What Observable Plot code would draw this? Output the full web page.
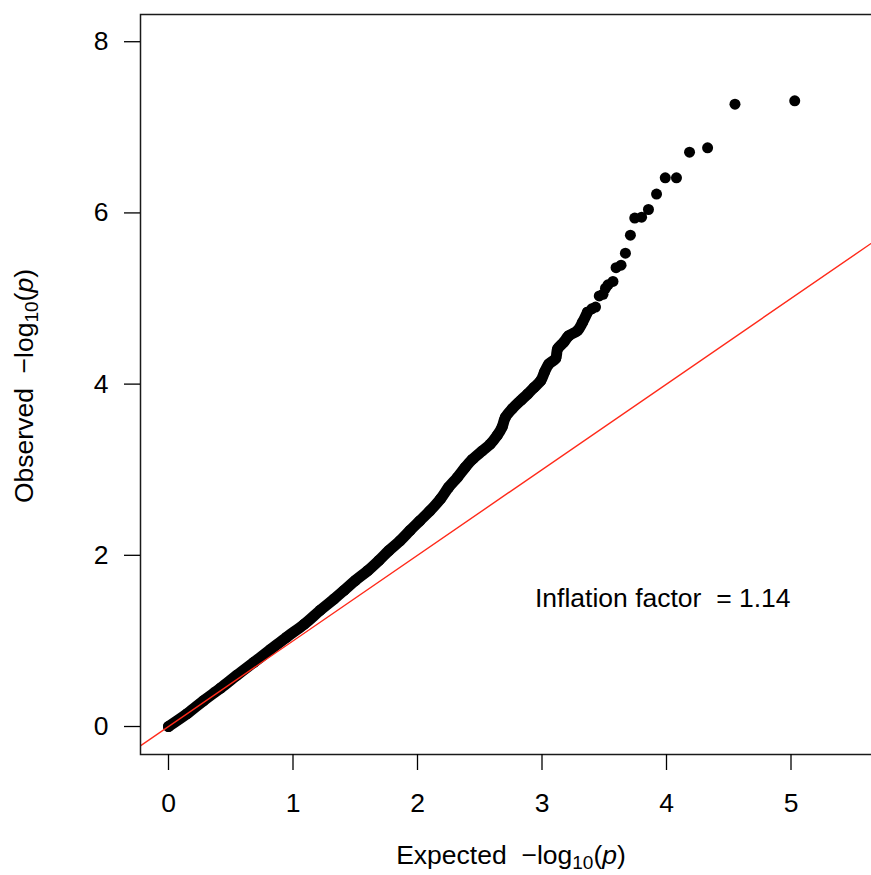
<!DOCTYPE html>
<html>
<head>
<meta charset="utf-8">
<script src="https://cdn.jsdelivr.net/npm/d3@7"></script>
<script src="https://cdn.jsdelivr.net/npm/@observablehq/plot@0.6"></script>
<style>
  html, body { margin: 0; padding: 0; background: white; overflow: hidden; }
  svg { max-width: none !important; }
  svg text { white-space: pre; }
</style>
</head>
<body>
<div id="chart"></div>
<script>
// Expected vs observed -log10(p) quantiles, sorted by expected value
const expected = [
  0.00, 0.15, 0.28, 0.42, 0.55, 0.685, 0.82, 0.95, 1.09, 1.22,
  1.33, 1.41, 1.50, 1.60, 1.69, 1.77, 1.86, 1.94, 2.02, 2.10,
  2.185, 2.25, 2.32, 2.385, 2.44, 2.52, 2.585, 2.64, 2.68, 2.705,
  2.76, 2.83, 2.885, 2.935, 2.99, 3.02, 3.055, 3.11, 3.125, 3.175,
  3.215, 3.285, 3.325, 3.365, 3.40, 3.43, 3.46, 3.49, 3.51, 3.53,
  3.57, 3.595, 3.635, 3.67, 3.71, 3.745, 3.80, 3.855, 3.92, 3.99,
  4.08, 4.185, 4.33, 4.55, 5.03
];
const observed = [
  0.00, 0.15, 0.30, 0.45, 0.60, 0.75, 0.90, 1.045, 1.195, 1.36,
  1.49, 1.59, 1.705, 1.82, 1.94, 2.055, 2.17, 2.29, 2.405, 2.52,
  2.66, 2.795, 2.91, 3.03, 3.12, 3.22, 3.30, 3.40, 3.50, 3.61,
  3.71, 3.81, 3.885, 3.96, 4.04, 4.14, 4.235, 4.30, 4.41, 4.49,
  4.565, 4.625, 4.72, 4.84, 4.88, 4.90, 5.03, 5.05, 5.12, 5.16,
  5.20, 5.36, 5.39, 5.53, 5.74, 5.94, 5.95, 6.04, 6.22, 6.41,
  6.41, 6.71, 6.76, 7.27, 7.31
];

// Identity reference line (observed = expected)
const identity = [-0.5, 7];

const xTicks = [0, 1, 2, 3, 4, 5];
const yTicks = [0, 2, 4, 6, 8];

const lambdaLabel = ["Inflation factor  = 1.14"];
const lambdaPos = {x: 3.97, y: 1.5};

const points = expected.map((e, i) => ({expected: e, observed: observed[i]}));
// the many overlapping points below ~3.4 merge into a continuous band
const densePart = points.filter(d => d.expected <= 3.37);

const font = "'Liberation Sans', Arial, Helvetica, sans-serif";

const chart = Plot.plot({
  width: 900,
  height: 875,
  marginLeft: 140,
  marginRight: 0,
  marginTop: 14,
  marginBottom: 121,
  style: {fontFamily: font, fontSize: "26.5px", color: "black", background: "white", maxWidth: "none"},
  x: {domain: [-0.2249, 5.8795]},
  y: {domain: [-0.327, 8.318]},
  marks: [
    Plot.line(densePart, {x: "expected", y: "observed", stroke: "black", strokeWidth: 11, strokeLinecap: "round", strokeLinejoin: "round", curve: "catmull-rom"}),
    Plot.dot(points, {x: "expected", y: "observed", r: 5.5, fill: "black", stroke: "none"}),
    Plot.line(identity, {x: d => d, y: d => d, stroke: "#ff2a1a", strokeWidth: 1.4, clip: true}),
    Plot.frame({stroke: "#1a1a1a", strokeWidth: 1.5}),
    Plot.axisX(xTicks, {tickSize: 16, tickPadding: 23, fontSize: 26.5, strokeWidth: 1.3, label: null, tickFormat: d3.format("d")}),
    Plot.axisY(yTicks, {tickSize: 16, tickPadding: 16, fontSize: 26.5, strokeWidth: 1.3, label: null, tickFormat: d3.format("d")}),
    Plot.text(lambdaLabel, {x: () => lambdaPos.x, y: () => lambdaPos.y, text: d => d, fontSize: 26.5, textAnchor: "middle", fill: "black"})
  ]
});

document.getElementById("chart").appendChild(chart);

// Axis titles with subscript and italic p
const svg = d3.select(chart);
function title(sel, lead) {
  sel.attr("font-family", font).attr("font-size", 26.5).attr("fill", "black")
     .attr("text-anchor", "middle").style("white-space", "pre");
  sel.append("tspan").text(lead + "\u2212log");
  sel.append("tspan").attr("font-size", 19).attr("dy", 5).text("10");
  sel.append("tspan").attr("dy", -5).text("(");
  sel.append("tspan").attr("font-style", "italic").text("p");
  sel.append("tspan").text(")");
}
title(svg.append("text").attr("x", 511).attr("y", 864), "Expected  ");
title(svg.append("text").attr("transform", "translate(32.5,386) rotate(-90)"), "Observed  ");
</script>
</body>
</html>
